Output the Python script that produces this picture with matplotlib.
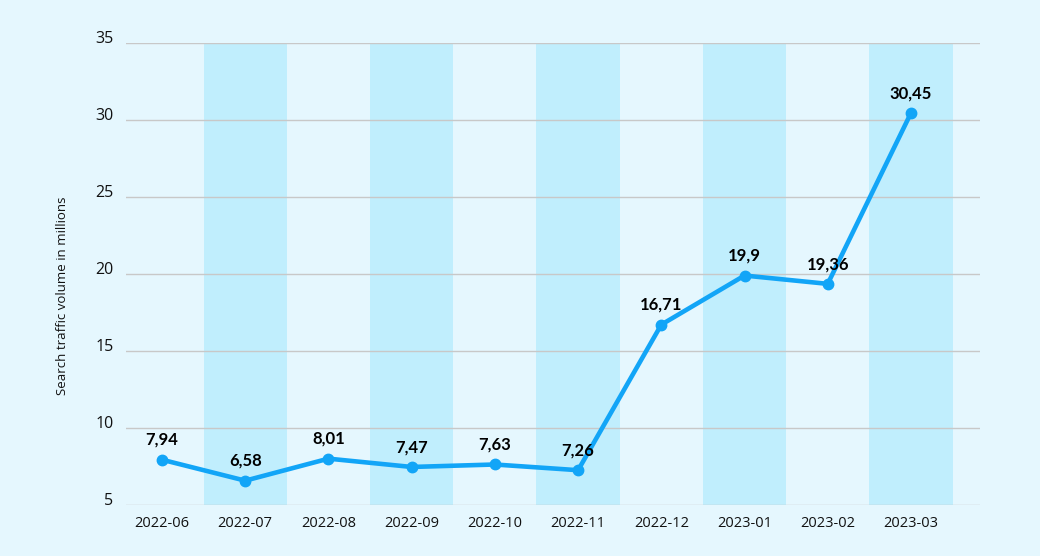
import matplotlib.pyplot as plt

months = ['2022-06', '2022-07', '2022-08', '2022-09', '2022-10',
          '2022-11', '2022-12', '2023-01', '2023-02', '2023-03']
volume = [7.94, 6.58, 8.01, 7.47, 7.63, 7.26, 16.71, 19.9, 19.36, 30.45]
yticks = [5, 10, 15, 20, 25, 30, 35]

bg = '#E5F7FE'
band = '#C0EEFD'
line_col = '#12A5F7'

plt.rcParams['font.family'] = ['Open Sans', 'DejaVu Sans']

fig = plt.figure(figsize=(10.4, 5.56), dpi=100, facecolor=bg)
ax = fig.add_axes([126 / 1040, 1 - 505 / 556, (980 - 126) / 1040, (505 - 43) / 556])
ax.set_facecolor(bg)

x = list(range(len(months)))

# alternating column bands
for i in x:
    if i % 2 == 1:
        ax.axvspan(i - 0.5, i + 0.5, ymin=0, ymax=1, color=band, lw=0, zorder=0)

for t in yticks:
    ax.axhline(t, color='#C8C8C8', lw=1, zorder=1)

ax.plot(x, volume, color=line_col, lw=3.3, marker='o', ms=7.5, zorder=3,
        solid_capstyle='round')

for xi, v in zip(x, volume):
    lab = ('%g' % v).replace('.', ',')
    ax.annotate(lab, (xi, v), xytext=(0, 8.5), textcoords='offset points',
                ha='center', va='bottom', fontsize=12, fontweight='bold',
                family=['Lato', 'DejaVu Sans'], color='#000000', zorder=4)

ax.set_xlim(-0.433, 9.83)
ax.set_ylim(5, 35)
ax.set_xticks(x)
ax.set_xticklabels(months, fontsize=10.5, color='#111111')
ax.set_yticks(yticks)
ax.set_yticklabels([str(t) for t in yticks], fontsize=11.5, color='#111111')
for lbl in ax.get_yticklabels():
    lbl.set_va('baseline')
ax.tick_params(axis='both', length=0)
ax.tick_params(axis='x', pad=8)
ax.tick_params(axis='y', pad=9)
for s in ax.spines.values():
    s.set_visible(False)

fig.text(63 / 1040, 1 - 296 / 556, 'Search traffic volume in millions',
         rotation=90, ha='center', va='center', fontsize=9.5, color='#111111')

fig.savefig('out.png', dpi=100, facecolor=bg)
